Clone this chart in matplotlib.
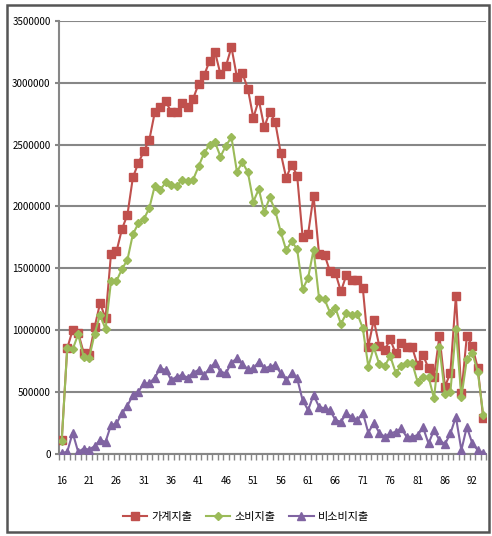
import numpy as np
import matplotlib
matplotlib.use('Agg')
matplotlib.rcParams['font.family'] = ['Noto Sans CJK KR', 'DejaVu Sans']
import matplotlib.pyplot as plt
from matplotlib.lines import Line2D
from matplotlib.patches import Rectangle

# %% data (연령별 지출)
ages = list(range(16, 90)) + [91, 92, 93, 94]

gagye = [108000, 851000, 1000000, 978000, 816000, 797000, 1022000, 1216000, 1095000, 1616000,
         1635000, 1816000, 1932000, 2235000, 2351000, 2446000, 2538000, 2762000, 2808000, 2851000,
         2762000, 2762000, 2835000, 2808000, 2870000, 2992000, 3059000, 3176000, 3249000, 3068000,
         3135000, 3289000, 3046000, 3078000, 2951000, 2716000, 2862000, 2640000, 2767000, 2681000,
         2432000, 2230000, 2338000, 2249000, 1754000, 1775000, 2086000, 1616000, 1610000, 1473000,
         1460000, 1311000, 1446000, 1405000, 1405000, 1338000, 865000, 1081000, 870000, 838000,
         924000, 811000, 897000, 865000, 860000, 716000, 797000, 689000, 622000, 951000,
         541000, 654000, 1276000, 487000, 951000, 870000, 689000, 284000]

sobi = [100000, 851000, 843000, 965000, 784000, 770000, 968000, 1122000, 1006000, 1392000,
        1397000, 1492000, 1568000, 1775000, 1862000, 1897000, 1986000, 2167000, 2135000, 2194000,
        2176000, 2162000, 2216000, 2208000, 2216000, 2324000, 2430000, 2500000, 2519000, 2403000,
        2492000, 2559000, 2281000, 2357000, 2276000, 2038000, 2140000, 1951000, 2073000, 1965000,
        1794000, 1646000, 1716000, 1654000, 1330000, 1419000, 1649000, 1257000, 1249000, 1141000,
        1176000, 1049000, 1135000, 1122000, 1130000, 1014000, 703000, 860000, 724000, 708000,
        789000, 654000, 708000, 730000, 735000, 581000, 616000, 622000, 446000, 860000,
        481000, 500000, 1006000, 454000, 762000, 811000, 662000, 311000]

bisobi = [5000, 13000, 168000, 13000, 40000, 32000, 59000, 108000, 95000, 230000,
          243000, 324000, 387000, 473000, 500000, 568000, 568000, 614000, 689000, 676000,
          595000, 622000, 635000, 614000, 654000, 676000, 635000, 689000, 735000, 662000,
          649000, 735000, 770000, 724000, 681000, 689000, 743000, 689000, 703000, 716000,
          649000, 595000, 649000, 608000, 432000, 351000, 473000, 378000, 365000, 351000,
          270000, 257000, 324000, 297000, 270000, 330000, 168000, 249000, 168000, 135000,
          162000, 176000, 203000, 135000, 135000, 149000, 211000, 81000, 189000, 108000,
          76000, 162000, 297000, 27000, 216000, 81000, 27000, 5000]

series = [("가계지출", gagye, "#C0504D", "s", 5.5),
          ("소비지출", sobi, "#9BBB59", "D", 4.2),
          ("비소비지출", bisobi, "#8064A2", "^", 6)]

# %% plot
fig = plt.figure(figsize=(4.92, 5.36), dpi=100)
ax = fig.add_axes([59 / 492, 1 - 453.5 / 536, (486 - 59) / 492, (453.5 - 21) / 536])

x = np.arange(len(ages))
handles = []
for name, vals, col, mk, ms in series:
    ax.plot(x, vals, color=col, lw=1.5, marker=mk, ms=ms, mec=col, mfc=col, zorder=3)
    handles.append(Line2D([0], [0], color=col, lw=1.5, marker=mk, ms=ms, mec=col, mfc=col))

ax.set_xlim(-0.5, len(ages) - 0.5)
ax.set_ylim(0, 3500000)
ax.set_yticks(np.arange(0, 3500001, 500000))
ax.set_yticklabels([str(v) for v in range(0, 3500001, 500000)], fontsize=7)
ax.yaxis.grid(True, color="#878787", lw=1.5)
ax.set_axisbelow(True)

ax.set_xticks(x[::5])
ax.set_xticklabels([str(a) for a in ages[::5]], fontsize=7)
ax.set_xticks(np.arange(-0.5, len(ages), 1), minor=True)
ax.tick_params(axis='x', which='major', length=0, pad=16)
ax.tick_params(axis='x', which='minor', length=4, width=1, color="#878787")
ax.tick_params(axis='y', length=3, width=1.5, color="#878787", pad=3)

for s in ['top', 'right']:
    ax.spines[s].set_visible(False)
for s in ['left', 'bottom']:
    ax.spines[s].set_color("#878787")
    ax.spines[s].set_linewidth(1.5)

fig.legend(handles, [s[0] for s in series], loc='center', bbox_to_anchor=(0.5, 0.035),
           ncol=3, frameon=False, fontsize=8, handlelength=2.2, columnspacing=1.2,
           handletextpad=0.4)

fig.patches.append(Rectangle((7 / 492, 1 - 532 / 536), 482 / 492, 527 / 536,
                             transform=fig.transFigure, fill=False, ec="#555555", lw=1.8))

fig.savefig("out.png", dpi=100)
